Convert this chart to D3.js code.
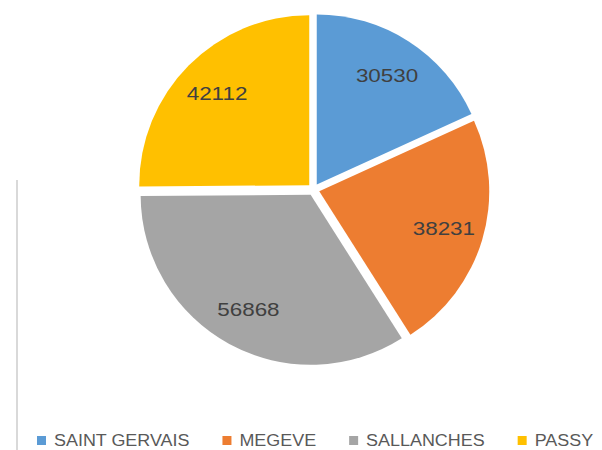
<!DOCTYPE html>
<html>
<head>
<meta charset="utf-8">
<script src="https://cdn.jsdelivr.net/npm/d3@7"></script>
<style>
  html, body { margin: 0; padding: 0; background: #fff; }
  svg { display: block; }
</style>
</head>
<body>
<svg id="chart" width="602" height="450"></svg>
<script>
// données
const villes = ["SAINT GERVAIS", "MEGEVE", "SALLANCHES", "PASSY"];
const valeurs = [30530, 38231, 56868, 42112];
const couleurs = ["#5B9BD5", "#ED7D31", "#A5A5A5", "#FFC000"];

const width = 602;
const height = 450;
const cx = 313.5, cy = 189.5;
const radius = 170;
const explode = 6;
const labelR = 130;
const police = "Liberation Sans, Arial, sans-serif";

const svg = d3.select("#chart");

// étire un texte horizontalement (le rendu d'origine est plus large)
function etirer(sel, k) {
  sel.each(function () {
    const w = this.getComputedTextLength();
    d3.select(this).attr("textLength", w * k).attr("lengthAdjust", "spacingAndGlyphs");
  });
}

// ligne grise à gauche
svg.append("line")
  .attr("x1", 17).attr("x2", 17)
  .attr("y1", 180).attr("y2", height)
  .attr("stroke", "#d9d9d9")
  .attr("stroke-width", 2);

const pie = d3.pie().sort(null).value(d => d.v);
const arcs = pie(villes.map((n, i) => ({ n, v: valeurs[i], c: couleurs[i] })));

const arc = d3.arc().innerRadius(0).outerRadius(radius);
const offsetArc = d3.arc().innerRadius(explode).outerRadius(explode);
const labelArc = d3.arc().innerRadius(labelR).outerRadius(labelR);

const g = svg.append("g").attr("transform", `translate(${cx},${cy})`);

const slices = g.selectAll("g.slice")
  .data(arcs)
  .join("g")
  .attr("class", "slice")
  .attr("transform", d => {
    const [ox, oy] = offsetArc.centroid(d);
    return `translate(${ox},${oy})`;
  });

slices.append("path")
  .attr("d", arc)
  .attr("fill", d => d.data.c);

slices.append("text")
  .attr("x", d => labelArc.centroid(d)[0])
  .attr("y", d => labelArc.centroid(d)[1])
  .attr("text-anchor", "middle")
  .attr("dy", "0.35em")
  .attr("font-family", police)
  .attr("font-size", 19)
  .attr("fill", "#404040")
  .text(d => d.data.v)
  .call(etirer, 1.18);

// légende
const legend = svg.append("g");
let x = 37;
const ly = 440;
villes.forEach((n, i) => {
  legend.append("rect")
    .attr("x", x).attr("y", ly - 4)
    .attr("width", 9).attr("height", 9)
    .attr("fill", couleurs[i]);
  const t = legend.append("text")
    .attr("x", x + 17)
    .attr("y", ly)
    .attr("dy", "0.35em")
    .attr("font-family", police)
    .attr("font-size", 16)
    .attr("fill", "#595959")
    .text(n);
  const w = t.node().getComputedTextLength() * 1.12;
  t.attr("textLength", w).attr("lengthAdjust", "spacingAndGlyphs");
  x += 17 + w + 33;
});
</script>
</body>
</html>
